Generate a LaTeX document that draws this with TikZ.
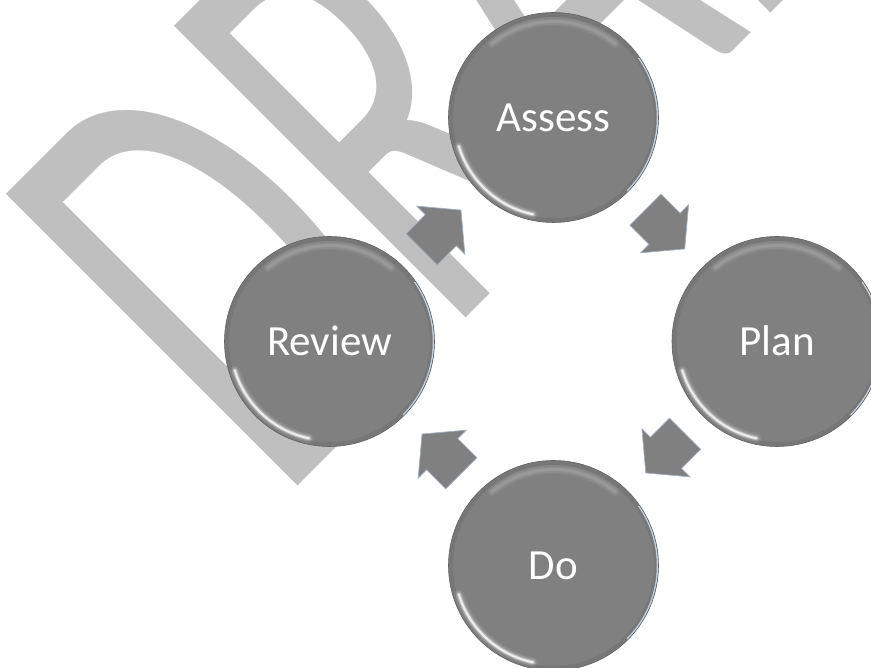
\documentclass[tikz,border=0pt]{standalone}
\usepackage{fontspec}
\setmainfont{Carlito}
\usepackage{graphicx}
\usetikzlibrary{calc}
\definecolor{ballgray}{RGB}{128,128,128}
\definecolor{rimgray}{RGB}{100,100,100}
\definecolor{wmgray}{RGB}{191,191,191}
\definecolor{rimblue}{RGB}{205,218,232}
\definecolor{arrowedge}{RGB}{165,175,188}
\tikzset{
  ball/.style={circle, minimum size=210pt, inner sep=0pt, fill=ballgray,
    draw=rimgray, line width=0.6pt, text=white,
    font=\fontsize{43}{43}\selectfont, text height=27.2pt, text depth=0pt,
    path picture={
      \coordinate (pc) at (path picture bounding box.center);
      \draw[rimgray, line width=5pt, opacity=0.30] (pc) circle[radius=103pt];
      \foreach \lw/\op in {10/0.08, 6.5/0.16, 4/0.32, 2/0.75}{
        \draw[white, line width=\lw pt, opacity=\op, line cap=round]
          ($(pc)+(197:99pt)$) arc[start angle=197, end angle=258, radius=99pt];
      }
      \foreach \lw/\op in {9/0.05, 6/0.07, 3/0.10}{
        \draw[white, line width=\lw pt, opacity=\op, line cap=round]
          ($(pc)+(50:96pt)$) arc[start angle=50, end angle=130, radius=96pt];
      }
      \draw[rimblue, line width=1.5pt, opacity=0.9]
        ($(pc)+(-45:104pt)$) arc[start angle=-45, end angle=35, radius=104pt];
    }},
  arrowbody/.style={fill=ballgray, draw=arrowedge, line width=0.7pt, line join=miter}
}
\begin{document}
\begin{tikzpicture}[x=1pt,y=1pt]
\useasboundingbox (0,0) rectangle (871,668);
\clip (0,0) rectangle (871,668);
\fill[white] (0,0) rectangle (871,668);
\node[rotate=45, anchor=base west, inner sep=0pt, outer sep=0pt, text=wmgray] (wm) at (279,163)
  {\scalebox{0.6}[1]{\fontsize{643}{643}\selectfont DRAFT}};
\node[ball] (assess) at (553.5,550.5) {Assess};
\node[ball] (plan) at (777,326.5) {Plan};
\node[ball] (do) at (553.5,102.5) {Do};
\node[ball] (review) at (329.5,326.5) {Review};
\foreach \a/\b/\ang in {assess/plan/-45, plan/do/-135, do/review/135, review/assess/45}{
  \begin{scope}[shift={($(\a)!0.5!(\b)$)}, rotate=\ang]
    \path[arrowbody] (-28,22) -- (-1,22) -- (-1,34) -- (27.5,0) -- (-1,-34)
      -- (-1,-22) -- (-28,-22) -- cycle;
  \end{scope}
}
\end{tikzpicture}
\end{document}
